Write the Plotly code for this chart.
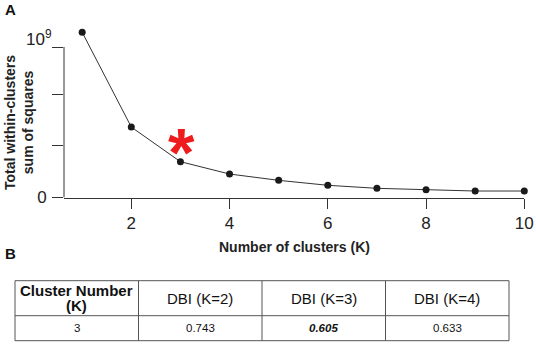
import plotly.graph_objects as go

# ---- data ----
k_values = [1, 2, 3, 4, 5, 6, 7, 8, 9, 10]
wss = [1.098e9, 0.468e9, 0.238e9, 0.156e9, 0.114e9, 0.081e9, 0.061e9, 0.052e9, 0.043e9, 0.043e9]
best_k = 3
y_tickvals = [0, 0.347e9, 0.687e9, 1e9]
y_ticktext = ["0", "", "", "10<sup>9</sup>"]
x_tickvals = [2, 4, 6, 8, 10]

table_cluster_number = 3
dbi_k = [2, 3, 4]
dbi_values = [0.743, 0.605, 0.633]

W, H = 536, 354
FONT = "Liberation Sans, Arial, sans-serif"
INK = "#333333"

fig = go.Figure()

fig.add_trace(go.Scatter(
    x=k_values, y=wss, mode="lines+markers",
    line=dict(color=INK, width=1),
    marker=dict(color="#1a1a1a", size=7),
    cliponaxis=False, showlegend=False, hoverinfo="skip",
))

# axes geometry (pixels)
x_left_px, x_right_px = 64, 524.3
y_zero_px, y_top_px = 197.5, 20
px_per_k = (524.3 - 131.3) / 8
x_min = 2 - (131.3 - x_left_px) / px_per_k
px_per_unit = 150.5 / 1e9
y_max = (y_zero_px - y_top_px) / px_per_unit
Y_TICKLEN = 11

# the top label sits above its tick (drawn as an annotation below)
axis_ticktext = y_ticktext[:-1] + [""]

fig.update_layout(
    width=W, height=H,
    margin=dict(l=0, r=0, t=0, b=0),
    paper_bgcolor="white", plot_bgcolor="white",
    font=dict(family=FONT, color="#222"),
    xaxis=dict(
        domain=[x_left_px / W, x_right_px / W], range=[x_min, 10], automargin=False,
        showgrid=False, zeroline=False, showline=True, linecolor=INK, linewidth=1,
        ticks="outside", ticklen=10, tickcolor=INK, tickwidth=1,
        tickvals=x_tickvals, tickfont=dict(size=17, color="#222"),
        ticklabeloverflow="allow",
    ),
    yaxis=dict(
        domain=[(H - y_zero_px) / H, (H - y_top_px) / H], range=[0, y_max], automargin=False,
        showgrid=False, zeroline=False, showline=False,
        ticks="outside", ticklen=Y_TICKLEN, tickcolor=INK, tickwidth=1,
        tickvals=y_tickvals, ticktext=axis_ticktext,
        tickfont=dict(size=17, color="#222"), ticklabelstandoff=2,
        ticklabeloverflow="allow",
    ),
)

fig.add_annotation(x=0, y=y_tickvals[-1], xref="x domain", yref="y",
                   xanchor="right", yanchor="bottom", xshift=-Y_TICKLEN + 1, yshift=-4,
                   text=y_ticktext[-1], showarrow=False,
                   font=dict(size=17, color="#222"))

# y axis line spanning 0..1e9 only
fig.add_shape(type="line", xref="x domain", yref="y", x0=0, x1=0,
              y0=y_tickvals[0], y1=y_tickvals[-1], line=dict(color=INK, width=1))

# red asterisk above the elbow
fig.add_annotation(x=best_k, y=wss[k_values.index(best_k)], xref="x", yref="y",
                   text="<b>*</b>", showarrow=False, yanchor="middle", yshift=10, xshift=1,
                   font=dict(size=68, color="#ee1c1c", family=FONT))

# axis titles
fig.add_annotation(x=294 / W, y=1 - 247 / H, xref="paper", yref="paper",
                   xanchor="center", yanchor="middle",
                   text="<b>Number of clusters (K)</b>", showarrow=False,
                   font=dict(size=14, color="#222"))
fig.add_annotation(x=19 / W, y=1 - 123 / H, xref="paper", yref="paper",
                   xanchor="center", yanchor="middle",
                   text="<b>Total within-clusters<br>sum of squares</b>", textangle=-90,
                   showarrow=False, font=dict(size=14, color="#222"))

# panel letters
fig.add_annotation(x=3 / W, y=1 - 9 / H, xref="paper", yref="paper",
                   xanchor="left", yanchor="middle",
                   text="<b>A</b>", showarrow=False, font=dict(size=15, color="#111"))
fig.add_annotation(x=3 / W, y=1 - 253 / H, xref="paper", yref="paper",
                   xanchor="left", yanchor="middle",
                   text="<b>B</b>", showarrow=False, font=dict(size=15, color="#111"))

# ---- table (grid + text built from the data lists) ----
best_idx = dbi_values.index(min(dbi_values))
header = [["<b>Cluster Number</b>", "<b>(K)</b>"]] + [[f"DBI (K={k})"] for k in dbi_k]
row = [str(table_cluster_number)]
for i, v in enumerate(dbi_values):
    s = f"{v:.3f}"
    if i == best_idx:
        s = f"<b><i>{s}</i></b>"
    row.append(s)

t_left, t_right = 15, 509
t_top, t_mid, t_bot = 280.7, 315.7, 340.7
ncol = len(header)
col_w = (t_right - t_left) / ncol
GRID = "#555555"

def px(x):
    return x / W

def py(y):
    return 1 - y / H

fig.add_shape(type="rect", xref="paper", yref="paper",
              x0=px(t_left), x1=px(t_right), y0=py(t_bot), y1=py(t_top),
              line=dict(color=GRID, width=1))
fig.add_shape(type="line", xref="paper", yref="paper",
              x0=px(t_left), x1=px(t_right), y0=py(t_mid), y1=py(t_mid),
              line=dict(color=GRID, width=1))
for c in range(1, ncol):
    xx = t_left + c * col_w
    fig.add_shape(type="line", xref="paper", yref="paper",
                  x0=px(xx), x1=px(xx), y0=py(t_top), y1=py(t_bot),
                  line=dict(color=GRID, width=1))

line_gap = 15.5
for c in range(ncol):
    cx = t_left + (c + 0.5) * col_w
    lines = header[c]
    hc = (t_top + t_mid) / 2
    start = hc - (len(lines) - 1) * line_gap / 2
    for j, txt in enumerate(lines):
        fig.add_annotation(x=px(cx), y=py(start + j * line_gap), xref="paper", yref="paper",
                           text=txt, showarrow=False, xanchor="center", yanchor="middle",
                           font=dict(size=15, color="#111"))
    fig.add_annotation(x=px(cx), y=py((t_mid + t_bot) / 2), xref="paper", yref="paper",
                       text=row[c], showarrow=False, xanchor="center", yanchor="middle",
                       font=dict(size=11.5, color="#111"))

fig.write_html("out.html", config={"displayModeBar": False},
               post_script="document.body.style.margin='0px';document.body.style.overflow='hidden';")
